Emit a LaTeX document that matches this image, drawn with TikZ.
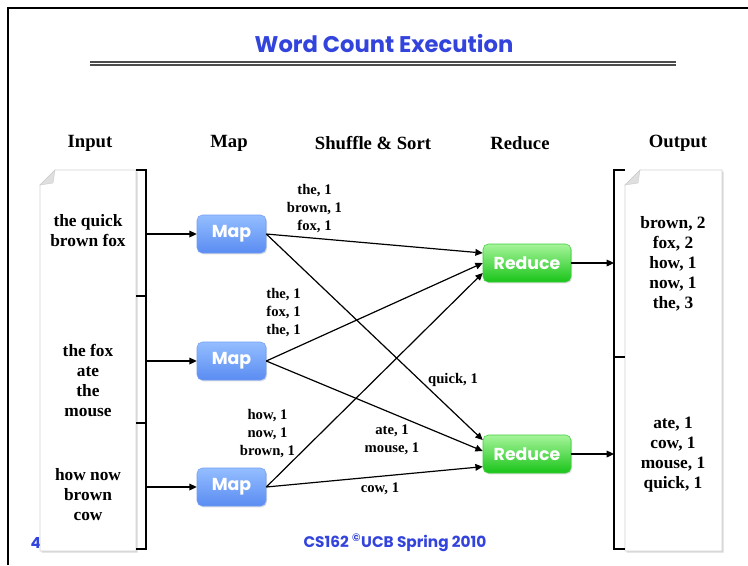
\documentclass[tikz,border=0pt]{standalone}
\usepackage{fontspec}
\setmainfont{Liberation Serif}
\newfontfamily\slidefont{Poppins}
\usetikzlibrary{shadows,arrows.meta}

\definecolor{slideblue}{HTML}{3344DD}
\definecolor{mapTop}{HTML}{94BEFF}
\definecolor{mapBot}{HTML}{5A8CF2}
\definecolor{redTop}{HTML}{A6F59A}
\definecolor{redBot}{HTML}{19C419}

\begin{document}
\begin{tikzpicture}[x=0.75pt,y=-0.75pt,
  arr/.style={line width=0.9pt,-{Triangle[length=5.5pt,width=5pt]}},
  brk/.style={line width=0.9pt},
  header/.style={font=\bfseries\fontsize{14}{16}\selectfont},
  doctext/.style={font=\bfseries\fontsize{13}{15}\selectfont,align=center},
  pairs/.style={font=\bfseries\fontsize{11}{13.5}\selectfont,align=center},
  slidetext/.style={font=\slidefont\bfseries, text=slideblue},
  mapbox/.style={rounded corners=4pt, minimum width=51.75pt, minimum height=28.5pt,
    top color=mapTop, bottom color=mapBot, draw=mapBot!85!white, line width=0.4pt,
    text=white, font=\slidefont\bfseries\fontsize{13}{13}\selectfont,
    drop shadow={opacity=0.25, shadow xshift=0.8pt, shadow yshift=-1pt}},
  redbox/.style={mapbox, minimum width=66pt, top color=redTop, bottom color=redBot,
    draw=redBot!85!white},
  page/.style={draw=gray!35, fill=white, line width=0.4pt,
    drop shadow={opacity=0.3, shadow xshift=1.2pt, shadow yshift=-1.2pt}},
  fold/.style={fill=gray!25, draw=gray!40, line width=0.3pt}
]
\useasboundingbox (0,0) rectangle (748,565);
\fill[white] (0,0) rectangle (748,565);

% slide frame
\draw[line width=2.2pt] (8,565) -- (8,8) -- (748,8);

% title and rule
\node[slidetext, font=\slidefont\bfseries\fontsize{17}{19}\selectfont] (title) at (384,44) {Word Count Execution};
\draw[line width=1pt, black!70] (90,62) -- (676,62);
\draw[line width=1pt, black!70] (90,65) -- (676,65);

% column headings
\node[header] (hin)  at (90,143)  {Input};
\node[header] (hmap) at (229,143) {Map};
\node[header] (hss)  at (373,143) {Shuffle \& Sort};
\node[header] (hred) at (520,143) {Reduce};
\node[header] (hout) at (678,143) {Output};

% footer
\node[slidetext, font=\slidefont\bfseries\fontsize{11.5}{12}\selectfont, anchor=west] (pgno) at (26,543) {4/};
\node[slidetext, font=\slidefont\bfseries\fontsize{11.5}{12}\selectfont] (foot) at (395,543) {CS162 \textsuperscript{\copyright}UCB Spring 2010};

% input document
\path[page] (55,170) -- (136,170) -- (136,551) -- (40,551) -- (40,185) -- cycle;
\path[fold] (40,185) -- (55,170) -- (53,183) -- cycle;
% output document
\path[page] (640,170) -- (722,170) -- (722,551) -- (625,551) -- (625,185) -- cycle;
\path[fold] (625,185) -- (640,170) -- (638,183) -- cycle;

% input splits
\node[doctext] (t1) at (88,231) {the quick\\brown fox};
\node[doctext] (t2) at (88,380) {the fox\\ate\\the\\mouse};
\node[doctext] (t3) at (88,495) {how now\\brown\\cow};

% output partitions
\node[doctext] (o1) at (673,264) {brown, 2\\fox, 2\\how, 1\\now, 1\\the, 3};
\node[doctext] (o2) at (673,455) {ate, 1\\cow, 1\\mouse, 1\\quick, 1};

% brackets
\draw[brk] (136,170) -- (146,170) -- (146,549) -- (136,549);
\draw[brk] (136,296) -- (146,296);
\draw[brk] (136,423) -- (146,423);
\draw[brk] (625,170) -- (614,170) -- (614,549) -- (625,549);
\draw[brk] (614,357) -- (625,357);

% workers
\node[mapbox] (map1) at (231.5,234) {Map};
\node[mapbox] (map2) at (231.5,361) {Map};
\node[mapbox] (map3) at (231.5,487) {Map};
\node[redbox] (red1) at (527,263) {Reduce};
\node[redbox] (red2) at (527,454) {Reduce};

% splits into mappers
\coordinate (in1) at (146,234);
\coordinate (in2) at (146,361);
\coordinate (in3) at (146,487);
\draw[arr] (in1) -- (map1);
\draw[arr] (in2) -- (map2);
\draw[arr] (in3) -- (map3);

% shuffle
\draw[arr] (map1.east) -- ([yshift=7.5pt]red1.west);
\draw[arr] (map2.east) -- (red1.west);
\draw[arr] (map3.east) -- ([yshift=-7.5pt]red1.west);
\draw[arr] (map1.east) -- ([yshift=10.5pt]red2.west);
\draw[arr] (map2.east) -- ([yshift=2.25pt]red2.west);
\draw[arr] (map3.east) -- ([yshift=-9.5pt]red2.west);

% reducers into output
\coordinate (out1) at (614,263);
\coordinate (out2) at (614,454);
\draw[arr] (red1) -- (out1);
\draw[arr] (red2) -- (out2);

% intermediate pairs
\node[pairs] (p1) at (314.5,209) {the, 1\\brown, 1\\fox, 1};
\node[pairs] (p2) at (283.5,313) {the, 1\\fox, 1\\the, 1};
\node[pairs] (p3) at (267.5,433.5) {how, 1\\now, 1\\brown, 1};
\node[pairs] (p4) at (453,380) {quick, 1};
\node[pairs] (p5) at (392,440) {ate, 1\\mouse, 1};
\node[pairs] (p6) at (380,489) {cow, 1};
\end{tikzpicture}
\end{document}
